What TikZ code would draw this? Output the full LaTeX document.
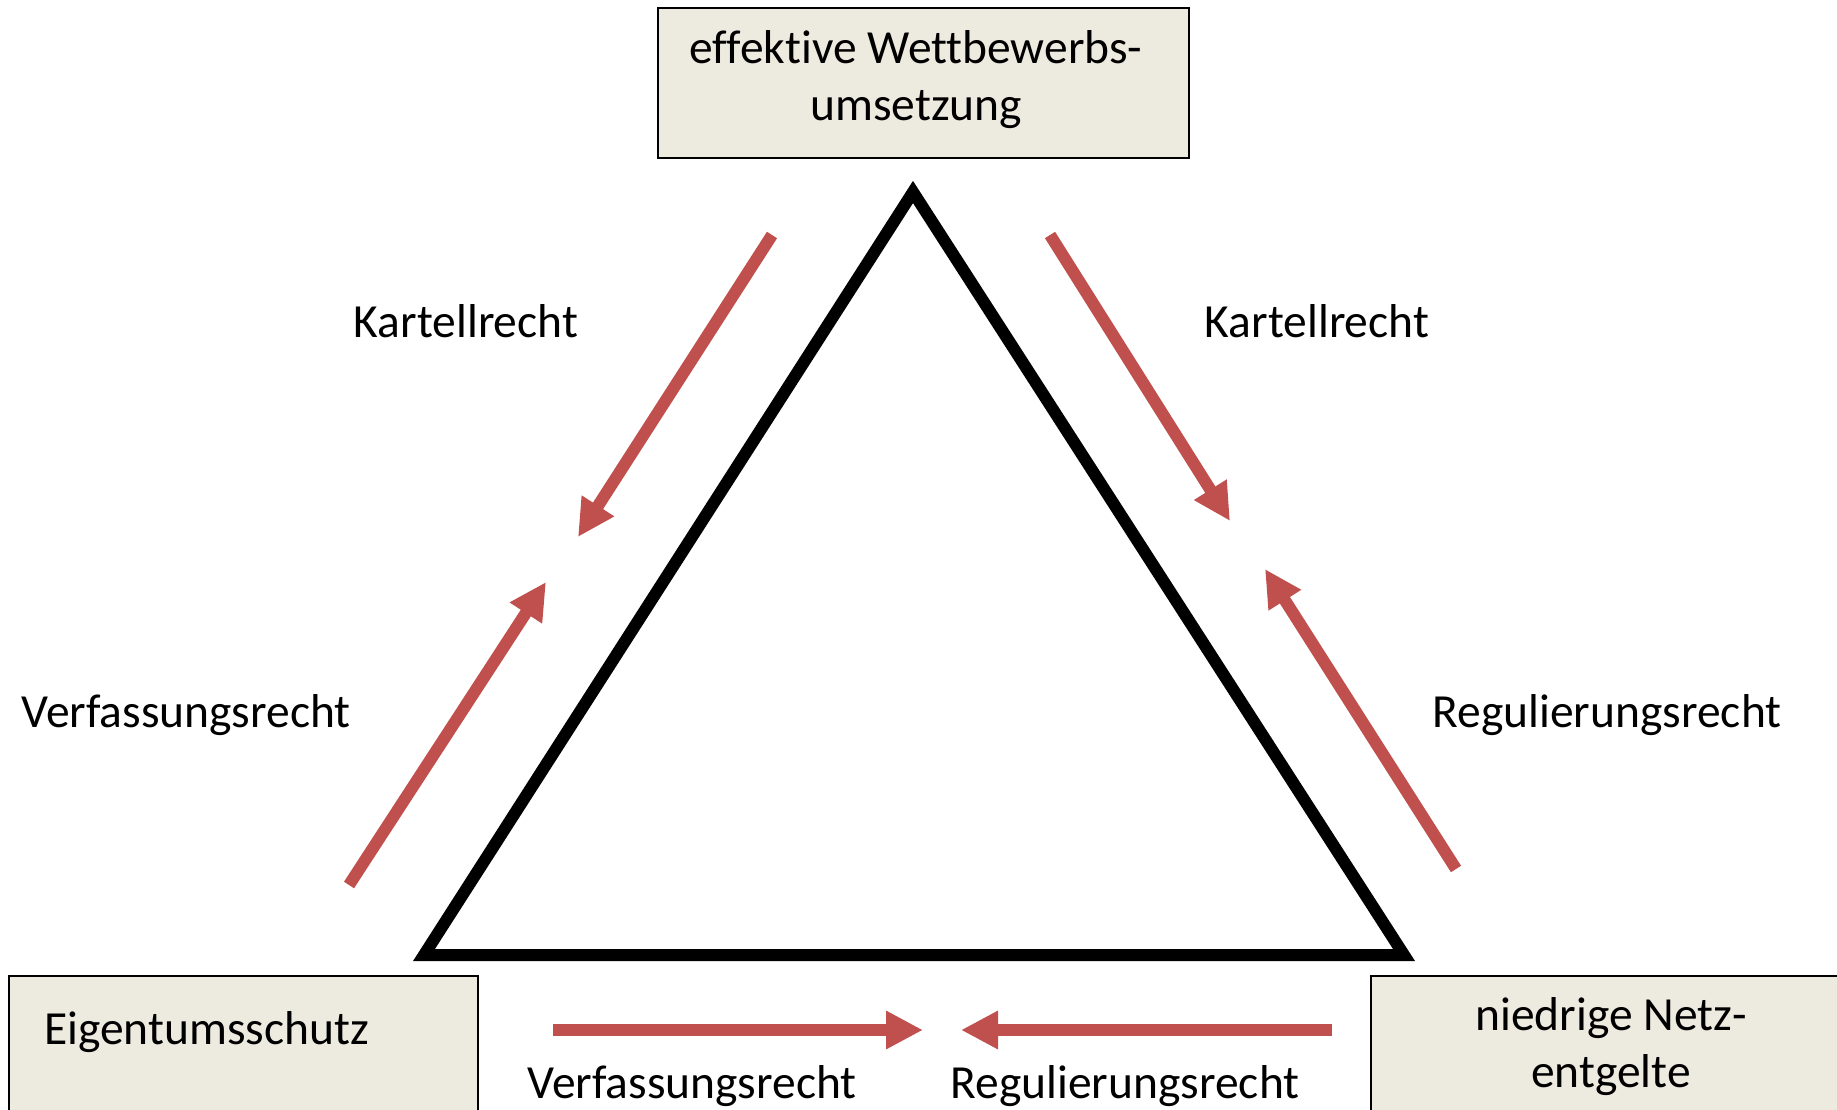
\documentclass[tikz,border=0pt]{standalone}
\usepackage{fontspec}
\setmainfont{Carlito}[Ligatures=NoCommon]
\usetikzlibrary{arrows.meta}
\definecolor{boxfill}{RGB}{237,234,224}
\definecolor{arrred}{RGB}{192,80,77}
\tikzset{
  lbl/.style={font=\fontsize{47.5}{57}\selectfont, inner sep=0pt, align=center},
  boxnode/.style={draw=black, line width=1.5pt, fill=boxfill},
  redarrow/.style={draw=arrred, line width=12pt, -{Triangle[length=37pt,width=36pt]}},
}
\begin{document}
\begin{tikzpicture}[x=1pt,y=-1pt]
\useasboundingbox (0,0) rectangle (1837,1110);
% boxes
\draw[boxnode] (658,8) rectangle (1189,158);
\node[lbl] (top) at (916,80) {effektive Wettbewerbs-\\umsetzung};
\draw[boxnode] (9,976) rectangle (478,1130);
\node[lbl, anchor=west] (eig) at (44,1032) {Eigentumsschutz};
\draw[boxnode] (1371,976) rectangle (1860,1130);
\node[lbl] (netz) at (1611,1047) {niedrige Netz-\\entgelte};
% triangle
\coordinate (apex) at (913,192);
\coordinate (bl) at (424,955);
\coordinate (br) at (1404,955);
\draw[line width=12pt, line join=miter] (apex) -- (bl) -- (br) -- cycle;
% arrows
\coordinate (a1s) at (772,235); \coordinate (a1e) at (578,537);
\coordinate (a2s) at (349,885); \coordinate (a2e) at (546,582);
\coordinate (a3s) at (1050,235); \coordinate (a3e) at (1230,521);
\coordinate (a4s) at (1456,869); \coordinate (a4e) at (1265,569);
\coordinate (a5s) at (553,1030); \coordinate (a5e) at (923,1030);
\coordinate (a6s) at (1332,1030); \coordinate (a6e) at (961,1030);
\draw[redarrow] (a1s) -- (a1e);
\draw[redarrow] (a2s) -- (a2e);
\draw[redarrow] (a3s) -- (a3e);
\draw[redarrow] (a4s) -- (a4e);
\draw[redarrow] (a5s) -- (a5e);
\draw[redarrow] (a6s) -- (a6e);
% labels
\node[lbl] (k1) at (466,321) {Kartellrecht};
\node[lbl] (k2) at (1317,321) {Kartellrecht};
\node[lbl] (v1) at (186,715) {Verfassungsrecht};
\node[lbl] (r1) at (1607,715) {Regulierungsrecht};
\node[lbl] (v2) at (692,1086) {Verfassungsrecht};
\node[lbl] (r2) at (1125,1086) {Regulierungsrecht};
\end{tikzpicture}
\end{document}
